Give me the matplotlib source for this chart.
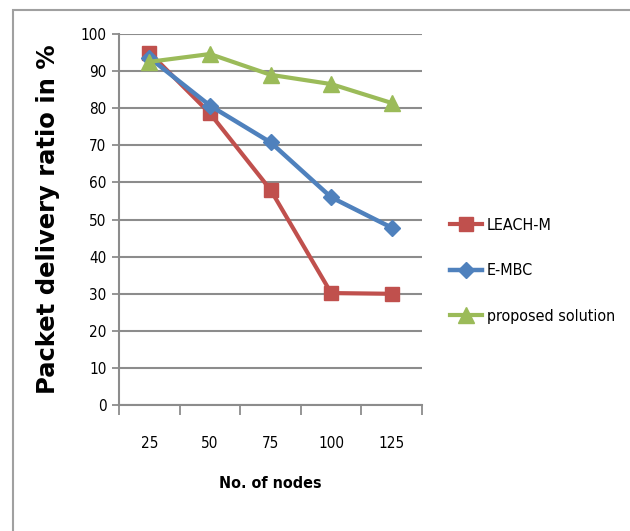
import matplotlib.pyplot as plt
from matplotlib.patches import Rectangle
import numpy as np

# valeurs
nodes = ['25', '50', '75', '100', '125']
leach_m = [95, 78.6, 58, 30.2, 30]
e_mbc = [93.6, 80.7, 70.8, 56, 47.8]
proposed = [92.5, 94.6, 89, 86.5, 81.4]
yticks = np.arange(0, 101, 10)

plt.rcParams['font.family'] = ['DejaVu Sans']
plt.rcParams['font.stretch'] = 'condensed'

fig = plt.figure(figsize=(6.3, 5.31), dpi=100)
ax = fig.add_axes([0.189, 0.237, 0.481, 0.699])

# cadre du graphique (style Excel)
fig.patches.append(Rectangle((13 / 630, -0.1), 1.2, 1 - 10 / 531 + 0.1,
                             transform=fig.transFigure, fill=False,
                             edgecolor='#a0a0a0', linewidth=1.5))

x = np.arange(len(nodes))
ax.plot(x, leach_m, color='#C0504D', lw=3, marker='s', ms=10.5, label='LEACH-M')
ax.plot(x, e_mbc, color='#4F81BD', lw=3.2, marker='D', ms=8.5, label='E-MBC')
ax.plot(x, proposed, color='#9BBB59', lw=3, marker='^', ms=11, label='proposed solution')

ax.set_xlim(-0.5, len(nodes) - 0.5)
ax.set_ylim(0, 100)
ax.set_yticks(yticks)
ax.yaxis.grid(True, color='#8c8c8c', lw=1.5)
ax.set_axisbelow(True)

ax.set_xticks(x)
ax.set_xticklabels(nodes)
ax.set_xticks(np.arange(-0.5, len(nodes)), minor=True)
ax.tick_params(axis='x', which='major', length=0, pad=22, labelsize=11)
ax.tick_params(axis='x', which='minor', length=7, width=1.3, color='#8c8c8c')
ax.tick_params(axis='y', length=5, width=1.3, color='#8c8c8c', labelsize=11, pad=4)

for s in ['top', 'right']:
    ax.spines[s].set_visible(False)
for s in ['left', 'bottom']:
    ax.spines[s].set_color('#8c8c8c')
    ax.spines[s].set_linewidth(1.5)

ax.set_xlabel('No. of nodes', fontsize=11.5, fontweight='bold', labelpad=18)
ax.set_ylabel('Packet delivery ratio in %', fontsize=17.5, fontweight='bold',
              fontstretch='normal')
ax.yaxis.set_label_coords(-0.195, 0.5)

fig.legend(loc='center left', bbox_to_anchor=(0.702, 0.49), frameon=False,
           fontsize=11.5, labelspacing=1.9, handlelength=2.0, handletextpad=0.3,
           borderpad=0)

fig.savefig('out.png', dpi=100)
